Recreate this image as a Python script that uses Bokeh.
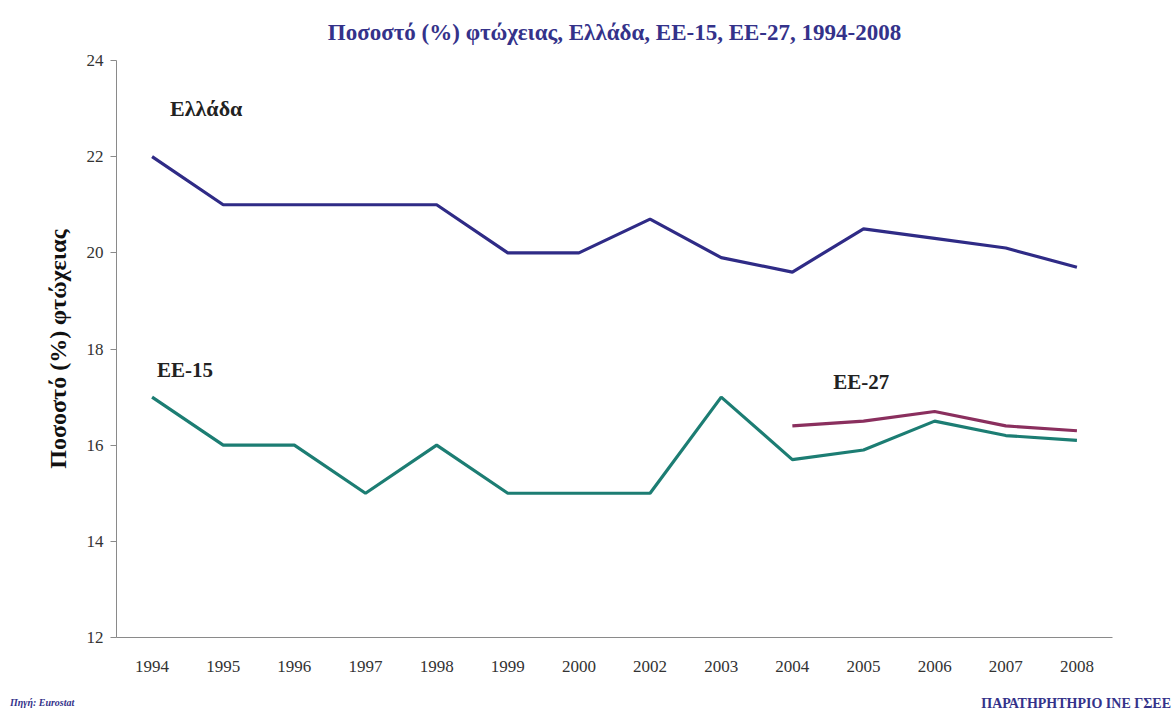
from bokeh.plotting import figure
from bokeh.models import FactorRange, Range1d, FixedTicker, Div
from bokeh.layouts import column, row
from bokeh.core.properties import value
from bokeh.embed import file_html
from bokeh.resources import INLINE

years = ["1994", "1995", "1996", "1997", "1998", "1999", "2000", "2002",
         "2003", "2004", "2005", "2006", "2007", "2008"]
greece = [22.0, 21.0, 21.0, 21.0, 21.0, 20.0, 20.0, 20.7, 19.9, 19.6, 20.5, 20.3, 20.1, 19.7]
eu15 = [17.0, 16.0, 16.0, 15.0, 16.0, 15.0, 15.0, 15.0, 17.0, 15.7, 15.9, 16.5, 16.2, 16.1]
eu27_years = ["2004", "2005", "2006", "2007", "2008"]
eu27 = [16.4, 16.5, 16.7, 16.4, 16.3]
y_ticks = [12, 14, 16, 18, 20, 22, 24]

SERIF = "Liberation Serif"
NAVY = "#34328a"

p = figure(width=1173, height=690, x_range=FactorRange(*years, range_padding=0),
           y_range=Range1d(12, 24), output_backend="svg", toolbar_location=None,
           min_border_left=116, min_border_right=61, min_border_top=60, min_border_bottom=53,
           title="Ποσοστό (%) φτώχειας, Ελλάδα, ΕΕ-15, ΕΕ-27, 1994-2008")
p.title.align = "center"
p.title.text_font = SERIF
p.title.text_font_size = "23px"
p.title.text_font_style = "bold"
p.title.text_color = NAVY
p.title.standoff = 32
p.outline_line_color = None
p.xgrid.grid_line_color = None
p.ygrid.grid_line_color = None
p.background_fill_color = "white"
p.border_fill_color = "white"

p.line(years, greece, line_color="#2f2b86", line_width=3.2)
p.line(years, eu15, line_color="#1c7d73", line_width=3.2)
p.line(eu27_years, eu27, line_color="#8a2f5e", line_width=3.2)

p.yaxis.ticker = FixedTicker(ticks=y_ticks)
p.yaxis.major_tick_out = 6
p.yaxis.major_tick_in = 0
p.yaxis.minor_tick_line_color = None
p.yaxis.axis_line_color = "#8a8a8a"
p.yaxis.major_tick_line_color = "#8a8a8a"
p.yaxis.major_label_text_font = SERIF
p.yaxis.major_label_text_font_size = "17px"
p.yaxis.major_label_text_color = "#333333"
p.yaxis.major_label_standoff = 7
p.yaxis.axis_label = "Ποσοστό (%) φτώχειας"
p.yaxis.axis_label_text_font = SERIF
p.yaxis.axis_label_text_font_size = "24px"
p.yaxis.axis_label_text_font_style = "bold"
p.yaxis.axis_label_text_color = "#111111"
p.yaxis.axis_label_standoff = 13

p.xaxis.axis_line_color = "#8a8a8a"
p.xaxis.major_tick_line_color = None
p.xaxis.minor_tick_line_color = None
p.xaxis.major_label_text_font = SERIF
p.xaxis.major_label_text_font_size = "17px"
p.xaxis.major_label_text_color = "#333333"
p.xaxis.major_label_standoff = 17

# series labels
p.text(x=["1994"], y=[23.0], text=["Ελλάδα"], x_offset=[18], text_font=value(SERIF),
       text_font_size="22px", text_font_style="bold", text_color="#222222",
       text_align="left", text_baseline="middle")
p.text(x=["1994"], y=[17.57], text=["ΕΕ-15"], x_offset=[5], text_font=value(SERIF),
       text_font_size="21px", text_font_style="bold", text_color="#222222",
       text_align="left", text_baseline="middle")
p.text(x=["2004"], y=[17.32], text=["ΕΕ-27"], x_offset=[41], text_font=value(SERIF),
       text_font_size="21px", text_font_style="bold", text_color="#222222",
       text_align="left", text_baseline="middle")

src = Div(text=('<div style="font-family:\'Liberation Serif\';font-size:10px;font-weight:bold;'
                'font-style:italic;color:%s;padding-left:10px;line-height:26px;'
                'white-space:nowrap;">Πηγή: Eurostat</div>' % NAVY),
          width=586, height=25, margin=0)
obs = Div(text=('<div style="font-family:\'Liberation Serif\';font-size:14px;font-weight:bold;'
                'color:%s;text-align:right;width:585px;line-height:28px;'
                'white-space:nowrap;">ΠΑΡΑΤΗΡΗΤΗΡΙΟ ΙΝΕ ΓΣΕΕ</div>' % NAVY),
          width=587, height=25, margin=0)

layout = column(p, row(src, obs, spacing=0), spacing=0)

open("out.html", "w").write(file_html(layout, INLINE))
